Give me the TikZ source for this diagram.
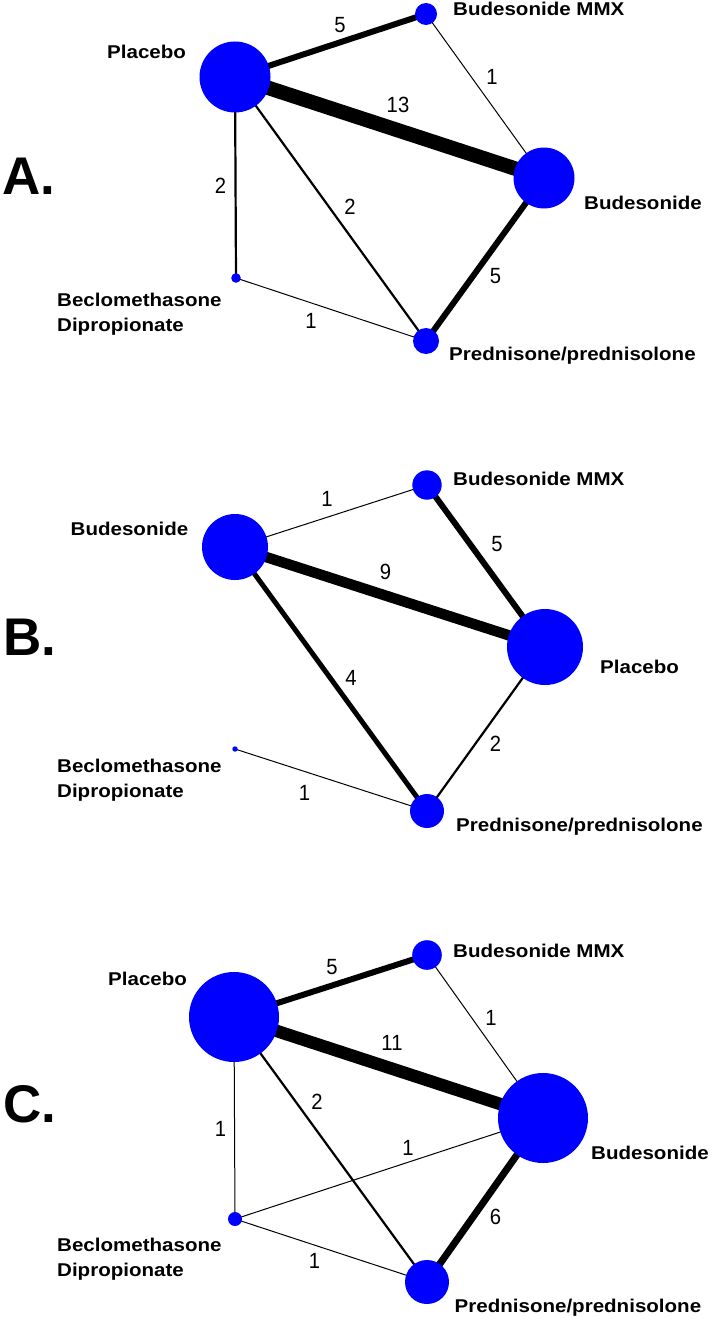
\documentclass[tikz,border=0pt]{standalone}
\usepackage{fontspec}
\setmainfont{Liberation Sans}
\newfontfamily\labfont[FakeStretch=1.11]{Liberation Sans}
\newfontfamily\numfont[FakeStretch=0.92]{Liberation Sans}
\definecolor{nodeblue}{RGB}{0,0,255}
\pgfdeclarelayer{edges}
\pgfsetlayers{edges,main}
\tikzset{
  nd/.style={circle, fill=nodeblue, inner sep=0pt, minimum size=#1},
  lab/.style={font=\labfont\bfseries\fontsize{18.5}{20}\selectfont, anchor=base west, inner sep=0pt},
  num/.style={font=\numfont\fontsize{22}{24}\selectfont, inner sep=0pt},
  panel/.style={font=\bfseries\fontsize{53}{56}\selectfont, anchor=west, inner sep=0pt},
  wt/.style={line width=#1pt, draw=black}
}
\begin{document}
\begin{tikzpicture}[x=1pt, y=-1pt]
\useasboundingbox (0,0) rectangle (709,1319);

% ---------------- Panel A ----------------
\node[panel] (pA) at (2,176) {A.};
\node[nd=71pt] (aP) at (235,77) {};
\node[nd=61pt] (aB) at (544,178) {};
\node[nd=22pt] (aM) at (426,14) {};
\node[nd=26pt] (aR) at (426,341) {};
\node[nd=9.6pt] (aD) at (236,278) {};
\begin{pgfonlayer}{edges}
\draw[wt=6] (aP.center) -- (aM.center);
\draw[wt=1] (aM.center) -- (aB.center);
\draw[wt=14.5] (aP.center) -- (aB.center);
\draw[wt=2.2] (aP.center) -- (aD.center);
\draw[wt=2.2] (aP.center) -- (aR.center);
\draw[wt=6] (aB.center) -- (aR.center);
\draw[wt=1] (aD.center) -- (aR.center);
\end{pgfonlayer}
\node[lab] (aPl) at (107,58.5) {Placebo};
\node[lab] (aMl) at (453,16) {Budesonide MMX};
\node[lab] (aBl) at (584,209) {Budesonide};
\node[lab] (aDl1) at (57,306) {Beclomethasone};
\node[lab] (aDl2) at (57,331) {Dipropionate};
\node[lab] (aRl) at (449,360) {Prednisone/prednisolone};
\node[num] (aN1) at (340,25) {5};
\node[num] (aN2) at (492,77) {1};
\node[num] (aN3) at (398,105) {13};
\node[num] (aN4) at (220.5,186) {2};
\node[num] (aN5) at (350,207) {2};
\node[num] (aN6) at (495.5,276) {5};
\node[num] (aN7) at (311,321) {1};

% ---------------- Panel B ----------------
\node[panel] (pB) at (3,637) {B.};
\node[nd=66pt] (bB) at (235,547) {};
\node[nd=29.4pt] (bM) at (427,485) {};
\node[nd=76pt] (bP) at (545,647) {};
\node[nd=34pt] (bR) at (427,811) {};
\node[nd=5.4pt] (bD) at (235,749) {};
\begin{pgfonlayer}{edges}
\draw[wt=1] (bB.center) -- (bM.center);
\draw[wt=6] (bM.center) -- (bP.center);
\draw[wt=10.5] (bB.center) -- (bP.center);
\draw[wt=5] (bB.center) -- (bR.center);
\draw[wt=2.2] (bP.center) -- (bR.center);
\draw[wt=1] (bD.center) -- (bR.center);
\end{pgfonlayer}
\node[lab] (bMl) at (453,485) {Budesonide MMX};
\node[lab] (bBl) at (70.5,535) {Budesonide};
\node[lab] (bPl) at (600,673) {Placebo};
\node[lab] (bDl1) at (57,772) {Beclomethasone};
\node[lab] (bDl2) at (57,797.5) {Dipropionate};
\node[lab] (bRl) at (456,831.5) {Prednisone/prednisolone};
\node[num] (bN1) at (327,499) {1};
\node[num] (bN2) at (497,544) {5};
\node[num] (bN3) at (385.5,572) {9};
\node[num] (bN4) at (351,678) {4};
\node[num] (bN5) at (495.5,744) {2};
\node[num] (bN6) at (304.5,793) {1};

% ---------------- Panel C ----------------
\node[panel] (pC) at (3,1104) {C.};
\node[nd=90pt] (cP) at (234,1017) {};
\node[nd=29.6pt] (cM) at (427,955) {};
\node[nd=90pt] (cB) at (543,1118) {};
\node[nd=44pt] (cR) at (427,1282) {};
\node[nd=14pt] (cD) at (235,1219) {};
\begin{pgfonlayer}{edges}
\draw[wt=6] (cP.center) -- (cM.center);
\draw[wt=1] (cM.center) -- (cB.center);
\draw[wt=12.5] (cP.center) -- (cB.center);
\draw[wt=1] (cP.center) -- (cD.center);
\draw[wt=2.2] (cP.center) -- (cR.center);
\draw[wt=1] (cD.center) -- (cB.center);
\draw[wt=1] (cD.center) -- (cR.center);
\draw[wt=7] (cB.center) -- (cR.center);
\end{pgfonlayer}
\node[lab] (cMl) at (453,957) {Budesonide MMX};
\node[lab] (cPl) at (108,985.5) {Placebo};
\node[lab] (cBl) at (591,1159) {Budesonide};
\node[lab] (cDl1) at (57,1251.5) {Beclomethasone};
\node[lab] (cDl2) at (57,1276.5) {Dipropionate};
\node[lab] (cRl) at (454.5,1312) {Prednisone/prednisolone};
\node[num] (cN1) at (332,967) {5};
\node[num] (cN2) at (491,1018) {1};
\node[num] (cN3) at (392,1043) {11};
\node[num] (cN4) at (317,1102) {2};
\node[num] (cN5) at (220.5,1129) {1};
\node[num] (cN6) at (408,1148) {1};
\node[num] (cN7) at (495.5,1217) {6};
\node[num] (cN8) at (314.5,1261) {1};
\end{tikzpicture}
\end{document}
